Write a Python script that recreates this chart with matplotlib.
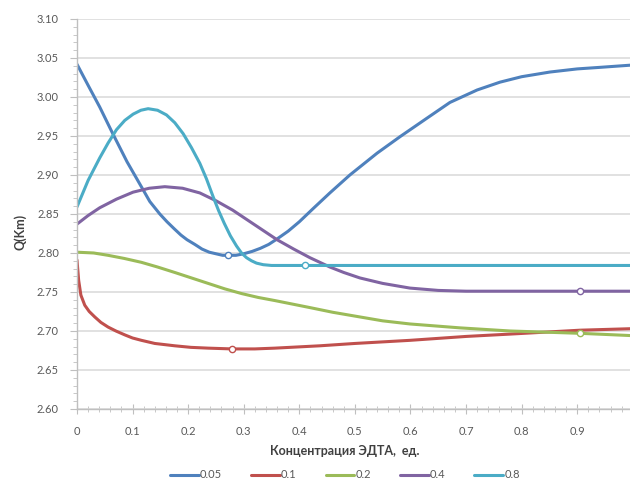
import matplotlib
matplotlib.use("Agg")
import matplotlib.pyplot as plt
from matplotlib.ticker import MultipleLocator, FormatStrFormatter, FuncFormatter

# series (x = ЭДТА concentration, y = Q(Km))
x_005 = [0, 0.02, 0.041, 0.063, 0.09, 0.119, 0.131, 0.149, 0.162, 0.175, 0.187, 0.198, 0.212, 0.225,
         0.238, 0.25, 0.262, 0.272, 0.286, 0.3, 0.315, 0.33, 0.345, 0.36, 0.38, 0.4, 0.425, 0.455,
         0.491, 0.54, 0.581, 0.63, 0.671, 0.72, 0.761, 0.8, 0.851, 0.9, 0.941, 1.0]
y_005 = [3.042, 3.015, 2.987, 2.955, 2.917, 2.881, 2.866, 2.850, 2.840, 2.831, 2.823, 2.817, 2.811, 2.805,
         2.801, 2.799, 2.797, 2.797, 2.797, 2.799, 2.802, 2.806, 2.811, 2.818, 2.828, 2.840, 2.857, 2.877,
         2.900, 2.928, 2.949, 2.973, 2.993, 3.009, 3.019, 3.026, 3.032, 3.036, 3.038, 3.041]

x_01 = [0, 0.003, 0.007, 0.014, 0.022, 0.032, 0.043, 0.056, 0.07, 0.086, 0.1, 0.116, 0.14, 0.176,
        0.205, 0.236, 0.279, 0.32, 0.356, 0.437, 0.5, 0.599, 0.7, 0.779, 0.905, 1.0]
y_01 = [2.791, 2.765, 2.746, 2.733, 2.725, 2.718, 2.711, 2.705, 2.700, 2.695, 2.691, 2.688, 2.684, 2.681,
        2.679, 2.678, 2.677, 2.677, 2.678, 2.681, 2.684, 2.688, 2.693, 2.696, 2.701, 2.703]

x_02 = [0, 0.03, 0.056, 0.085, 0.116, 0.145, 0.176, 0.206, 0.236, 0.266, 0.296, 0.326, 0.356, 0.419,
        0.46, 0.509, 0.55, 0.599, 0.689, 0.779, 0.905, 1.0]
y_02 = [2.801, 2.800, 2.797, 2.793, 2.788, 2.782, 2.775, 2.768, 2.761, 2.754, 2.748, 2.743, 2.739, 2.730,
        2.724, 2.718, 2.713, 2.709, 2.704, 2.700, 2.697, 2.694]

x_04 = [0, 0.02, 0.041, 0.071, 0.101, 0.13, 0.158, 0.19, 0.221, 0.25, 0.28, 0.32, 0.36, 0.39,
        0.419, 0.455, 0.48, 0.509, 0.55, 0.599, 0.65, 0.7, 0.8, 0.905, 1.0]
y_04 = [2.837, 2.848, 2.858, 2.869, 2.878, 2.883, 2.885, 2.883, 2.877, 2.867, 2.855, 2.836, 2.817, 2.805,
        2.794, 2.782, 2.775, 2.768, 2.761, 2.755, 2.752, 2.751, 2.751, 2.751, 2.751]

x_08 = [0, 0.02, 0.041, 0.056, 0.071, 0.086, 0.101, 0.115, 0.128, 0.145, 0.161, 0.176, 0.191, 0.206,
        0.221, 0.233, 0.245, 0.255, 0.265, 0.276, 0.287, 0.296, 0.305, 0.314, 0.323, 0.335, 0.35,
        0.41, 0.5, 0.7, 1.0]
y_08 = [2.859, 2.893, 2.922, 2.941, 2.958, 2.970, 2.978, 2.983, 2.985, 2.983, 2.977, 2.967, 2.953, 2.935,
        2.915, 2.895, 2.872, 2.854, 2.838, 2.822, 2.809, 2.800, 2.794, 2.790, 2.787, 2.785, 2.784,
        2.784, 2.784, 2.784, 2.784]

# the single visible marker on each curve
mark_x = [0.272, 0.279, 0.905, 0.905, 0.41]
mark_y = [2.797, 2.677, 2.697, 2.751, 2.784]

labels = ["0.05", "0.1", "0.2", "0.4", "0.8"]
colors = ["#4F81BD", "#C0504D", "#9BBB59", "#8064A2", "#4BACC6"]
xs = [x_005, x_01, x_02, x_04, x_08]
ys = [y_005, y_01, y_02, y_04, y_08]

plt.rcParams['font.family'] = ['Lato', 'DejaVu Sans']

fig = plt.figure(figsize=(6.3, 4.82), dpi=100)
ax = fig.add_axes([0.1222, 0.1515, 0.8778, 0.8091])

for i in range(len(labels)):
  ax.plot(xs[i], ys[i], color=colors[i], lw=2.2, label=labels[i],
          solid_capstyle='round', solid_joinstyle='round')
  ax.plot(mark_x[i], mark_y[i], 'o', ms=4.5, mfc='white', mec=colors[i], mew=1.0)

ax.set_xlim(0, 0.995)
ax.set_ylim(2.60, 3.10)
ax.xaxis.set_major_locator(MultipleLocator(0.1))
ax.xaxis.set_minor_locator(MultipleLocator(0.02))
ax.yaxis.set_major_locator(MultipleLocator(0.05))
ax.yaxis.set_minor_locator(MultipleLocator(0.01))
ax.xaxis.set_major_formatter(FuncFormatter(lambda v, p: "0" if abs(v) < 1e-9 else "%g" % round(v, 1)))
ax.yaxis.set_major_formatter(FormatStrFormatter("%.2f"))

ax.grid(axis='y', which='major', color='#D9D9D9', lw=1.1)
ax.set_axisbelow(True)
for s in ['top', 'right']:
  ax.spines[s].set_visible(False)
for s in ['left', 'bottom']:
  ax.spines[s].set_color('#BFBFBF')
  ax.spines[s].set_linewidth(1.0)

ax.tick_params(axis='x', which='major', direction='inout', length=7, color='#BFBFBF',
               labelsize=8, labelcolor='#595959', pad=9)
ax.tick_params(axis='x', which='minor', direction='inout', length=4, color='#BFBFBF')
ax.tick_params(axis='y', which='major', direction='out', length=5, color='#BFBFBF',
               labelsize=8, labelcolor='#595959', pad=8)
ax.tick_params(axis='y', which='minor', direction='out', length=3, color='#BFBFBF')

fig.text(0.548, 1 - 451 / 482, "Концентрация ЭДТА,  ед.", ha='center', va='center',
         fontsize=9, fontweight='bold', color='#404040')
fig.text(20 / 630, 1 - 232 / 482, "Q(Km)", ha='center', va='center', rotation=90,
         fontsize=9, fontweight='bold', color='#404040')

fig.legend(loc='center', bbox_to_anchor=(345 / 630, 1 - 475 / 482), ncol=5, frameon=False,
           fontsize=8, handlelength=2.6, columnspacing=2.6, handletextpad=0.1,
           labelcolor='#595959')

fig.savefig("out.png", dpi=100)
